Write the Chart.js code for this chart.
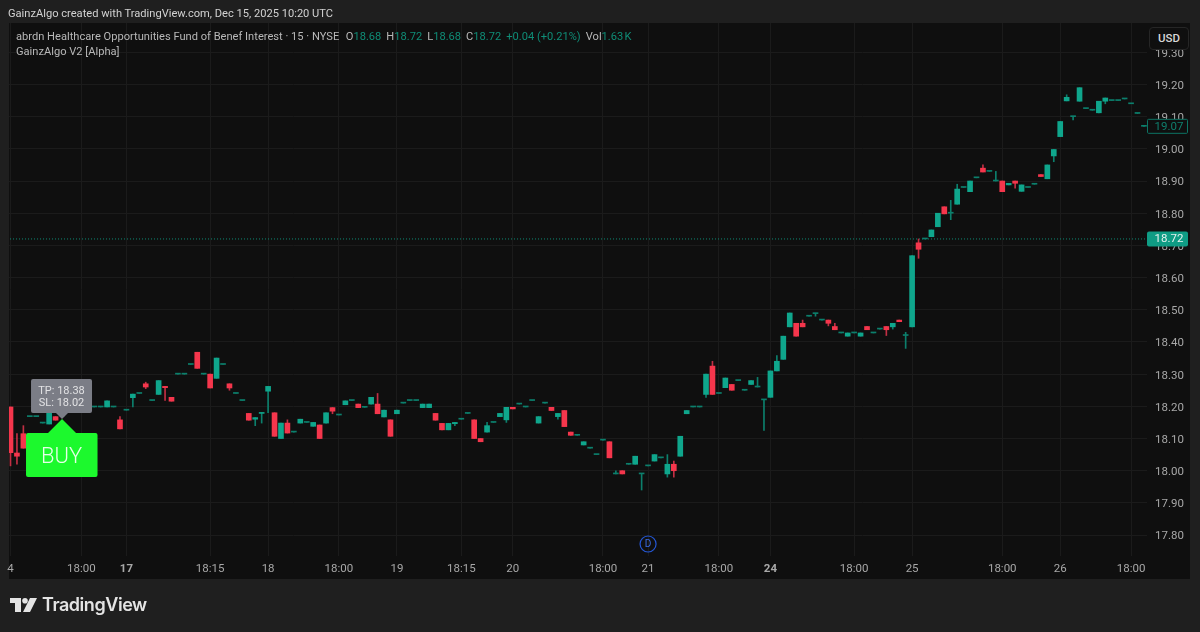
<!DOCTYPE html>
<html>
<head>
<meta charset="utf-8">
<title>GainzAlgo chart</title>
<script src="https://cdn.jsdelivr.net/npm/chart.js@4/dist/chart.umd.min.js"></script>
<style>
  html, body { margin: 0; padding: 0; background: #1f1f1f; }
  body { width: 1200px; height: 632px; position: relative; overflow: hidden; font-family: Roboto, Inter, sans-serif; }
  #pane { position: absolute; left: 9px; top: 23px; width: 1181px; height: 556px; background: #0f0f0f; }
  #price-chart { position: absolute; left: 0; top: 0; }
  .txt { position: absolute; white-space: nowrap; }
  #created { left: 8px; top: 7px; font-size: 11.12px; color: #d2d2d2; }
  #legend1 { left: 16px; top: 30px; font-size: 11.12px; color: #b8b8b8; }
  #legend2 { left: 16px; top: 45px; font-size: 11.12px; color: #b8b8b8; }
  #legend1 b { font-weight: 400; color: #0f8d77; }
  #legend1 span { margin-left: 5px; }
  #usd { left: 1149px; top: 27px; width: 38px; height: 21px; line-height: 21px; text-align: center; font-size: 11.5px; font-weight: 500; color: #d8d8d8; border: 1px solid #262626; border-radius: 4px; background: #0f0f0f; }
  #brand { left: 42px; top: 594px; font-family: Inter, sans-serif; font-size: 18px; font-weight: 600; letter-spacing: -0.45px; color: #e4e4e4; }
  #logo { position: absolute; left: 10px; top: 598px; }
</style>
</head>
<body>
<div id="pane"></div>
<canvas id="price-chart" width="1200" height="632"></canvas>
<div class="txt" id="created">GainzAlgo created with TradingView.com, Dec 15, 2025 10:20 UTC</div>
<div class="txt" id="legend1">abrdn Healthcare Opportunities Fund of Benef Interest · 15 · NYSE<span style="margin-left:6.5px">O<b>18.68</b></span><span>H<b>18.72</b></span><span>L<b>18.68</b></span><span>C<b>18.72</b></span><span><b>+0.04 (+0.21%)</b></span><span>Vol<b>1.63&#8202;K</b></span></div>
<div class="txt" id="legend2">GainzAlgo V2 [Alpha]</div>
<div class="txt" id="usd">USD</div>
<svg id="logo" width="27" height="14" viewBox="0 0 27 14">
  <path d="M0 0H11V14H5V5H0Z M20 0H27L20 14H13Z" fill="#e4e4e4"/>
  <circle cx="15" cy="2.8" r="2.8" fill="#e4e4e4"/>
</svg>
<div class="txt" id="brand">TradingView</div>

<script>
const opens = [18.198,18.055,18.115,18.168,18.168,18.148,18.145,18.168,18.17,18.19,18.2,18.2,18.198,18.198,18.198,18.198,18.198,18.158,18.188,18.227,
  18.24,18.27,18.218,18.237,18.262,18.228,18.3,18.3,18.33,18.368,18.3,18.3,18.287,18.33,18.27,18.24,18.218,18.178,18.16,18.178,
  18.247,18.18,18.1,18.148,18.12,18.148,18.15,18.138,18.142,18.148,18.196,18.173,18.205,18.218,18.207,18.197,18.207,18.207,18.167,18.158,
  18.177,18.21,18.218,18.218,18.196,18.196,18.178,18.147,18.127,18.146,18.16,18.178,18.158,18.1,18.12,18.15,18.168,18.158,18.197,18.207,
  18.198,18.218,18.148,18.21,18.197,18.168,18.187,18.12,18.11,18.08,18.07,18.05,18.095,18.09,17.99,18.0,18.02,18.02,17.99,18.015,
  18.03,18.04,17.99,18.02,18.045,18.177,18.198,18.198,18.237,18.325,18.24,18.258,18.268,18.28,18.25,18.268,18.26,18.22,18.228,18.31,
  18.346,18.447,18.458,18.458,18.48,18.488,18.468,18.468,18.448,18.428,18.418,18.428,18.418,18.448,18.428,18.44,18.448,18.447,18.468,18.42,
  18.447,18.708,18.72,18.727,18.758,18.82,18.8,18.828,18.88,18.867,18.91,18.94,18.93,18.9,18.9,18.888,18.9,18.868,18.88,18.89,
  18.92,18.907,18.978,19.038,19.149,19.1,19.148,19.125,19.12,19.112,19.148,19.15,19.15,19.155,19.14,19.11,19.07];
const closes = [18.056,18.045,18.07,18.168,18.168,18.148,18.185,18.157,18.17,18.19,18.2,18.2,18.198,18.198,18.198,18.217,18.198,18.13,18.188,18.238,
  18.24,18.26,18.218,18.28,18.258,18.216,18.3,18.3,18.33,18.318,18.3,18.257,18.35,18.33,18.257,18.24,18.218,18.157,18.165,18.18,
  18.262,18.107,18.148,18.117,18.12,18.16,18.15,18.15,18.1,18.18,18.185,18.173,18.217,18.218,18.196,18.197,18.228,18.177,18.188,18.107,
  18.188,18.21,18.218,18.218,18.207,18.207,18.157,18.127,18.147,18.15,18.16,18.178,18.1,18.09,18.14,18.15,18.178,18.197,18.192,18.207,
  18.198,18.218,18.168,18.21,18.187,18.178,18.137,18.11,18.11,18.09,18.07,18.05,18.095,18.04,17.99,17.99,18.02,18.045,17.99,18.015,
  18.05,18.04,18.02,18.0,18.107,18.187,18.198,18.198,18.3,18.237,18.24,18.288,18.25,18.28,18.25,18.28,18.26,18.22,18.31,18.34,
  18.418,18.49,18.418,18.447,18.48,18.488,18.468,18.458,18.438,18.428,18.428,18.428,18.428,18.438,18.428,18.44,18.438,18.458,18.463,18.42,
  18.668,18.688,18.72,18.748,18.8,18.798,18.8,18.875,18.88,18.9,18.91,18.928,18.93,18.9,18.867,18.893,18.893,18.888,18.88,18.89,
  18.914,18.95,18.998,19.085,19.16,19.1,19.19,19.125,19.12,19.148,19.158,19.15,19.15,19.155,19.14,19.11,19.07];
const highs = [18.198,18.115,18.14,18.168,18.168,18.148,18.185,18.168,18.17,18.19,18.2,18.2,18.198,18.198,18.198,18.217,18.198,18.168,18.188,18.238,
  18.24,18.275,18.218,18.28,18.262,18.228,18.3,18.3,18.33,18.368,18.3,18.3,18.35,18.33,18.27,18.24,18.218,18.178,18.165,18.18,
  18.262,18.18,18.148,18.158,18.12,18.16,18.15,18.15,18.142,18.18,18.196,18.173,18.217,18.218,18.207,18.197,18.228,18.24,18.188,18.158,
  18.188,18.21,18.218,18.218,18.207,18.207,18.178,18.147,18.147,18.15,18.16,18.178,18.158,18.1,18.15,18.15,18.178,18.197,18.197,18.207,
  18.198,18.218,18.168,18.21,18.197,18.178,18.187,18.12,18.11,18.09,18.07,18.05,18.095,18.09,18.0,18.0,18.02,18.045,17.99,18.015,
  18.05,18.04,18.05,18.03,18.107,18.187,18.198,18.198,18.3,18.34,18.24,18.288,18.268,18.28,18.25,18.28,18.29,18.22,18.31,18.358,
  18.418,18.49,18.458,18.468,18.48,18.488,18.468,18.468,18.458,18.428,18.428,18.428,18.428,18.448,18.428,18.44,18.448,18.458,18.468,18.43,
  18.668,18.72,18.72,18.748,18.8,18.82,18.84,18.89,18.88,18.9,18.91,18.95,18.93,18.93,18.9,18.893,18.9,18.888,18.88,18.89,
  18.92,18.95,18.998,19.085,19.168,19.1,19.19,19.125,19.12,19.148,19.158,19.15,19.15,19.155,19.14,19.11,19.07];
const lows = [18.015,18.02,18.07,18.168,18.168,18.148,18.145,18.157,18.17,18.19,18.2,18.2,18.198,18.198,18.198,18.198,18.198,18.13,18.188,18.198,
  18.24,18.255,18.218,18.237,18.218,18.216,18.3,18.3,18.33,18.318,18.3,18.257,18.287,18.33,18.25,18.24,18.218,18.157,18.14,18.148,
  18.18,18.107,18.1,18.117,18.12,18.148,18.15,18.138,18.1,18.148,18.177,18.173,18.205,18.218,18.196,18.197,18.207,18.177,18.167,18.107,
  18.177,18.21,18.218,18.218,18.196,18.196,18.157,18.127,18.127,18.14,18.16,18.178,18.1,18.09,18.12,18.15,18.168,18.15,18.192,18.207,
  18.198,18.218,18.148,18.21,18.187,18.16,18.137,18.11,18.11,18.08,18.07,18.05,18.095,18.04,17.99,17.99,18.02,18.02,17.94,18.015,
  18.03,18.04,17.98,17.98,18.045,18.177,18.198,18.198,18.228,18.237,18.24,18.258,18.25,18.28,18.25,18.268,18.26,18.125,18.228,18.31,
  18.346,18.447,18.418,18.447,18.48,18.48,18.468,18.45,18.438,18.428,18.418,18.428,18.418,18.438,18.428,18.44,18.42,18.44,18.463,18.38,
  18.447,18.66,18.72,18.727,18.758,18.798,18.78,18.828,18.88,18.867,18.91,18.928,18.93,18.9,18.867,18.888,18.878,18.868,18.88,18.89,
  18.914,18.907,18.96,19.038,19.149,19.09,19.148,19.125,19.12,19.112,19.14,19.15,19.15,19.155,19.14,19.11,19.07];

const priceTicks = [19.30,19.20,19.10,19.00,18.90,18.80,18.70,18.60,18.50,18.40,18.30,18.20,18.10,18.00,17.90,17.80];
const timeTickIndex = [0,11,18,31,40,51,60,70,78,92,99,110,118,131,140,154,163,174];
const timeTickLabels = ['4','18:00','17','18:15','18','18:00','19','18:15','20','18:00','21','18:00','24','18:00','25','18:00','26','18:00'];
const boldTimeLabels = ['17','24'];

const lastClose = 18.72;   // dotted line and green tag
const latestPrice = 19.07; // outlined tag
const signalIndex = 8;     // BUY flag
const dividendIndex = 99;  // D marker
const signalTexts = ['TP: 18.38', 'SL: 18.02'];

const UP = '#0fa68c';
const DOWN = '#f5364c';
const UP_THIN = '#0c7f6c';   // wicks and flat bars read dimmer than bodies
const DOWN_THIN = '#c22f44';
const AXIS_TEXT = '#a8a8a8';

const candleIndex = opens.map((_, i) => i);
const isUp = (i) => closes[i] >= opens[i];
const bodyColor = (ctx) => {
    const i = ctx.dataIndex;
    if (opens[i] === closes[i]) return UP_THIN;
    return isUp(i) ? UP : DOWN;
};
const wickColor = (ctx) => isUp(ctx.dataIndex) ? UP_THIN : DOWN_THIN;

// BUY flag, price tags and the dividend marker sit on top of the plot
const overlayPlugin = {
    id: 'overlays',
    afterDraw(chart) {
        const c = chart.ctx;
        const x = chart.scales.x;
        const y = chart.scales.y;
        c.save();
        c.textAlign = 'center';
        c.textBaseline = 'middle';

        // green tag
        const closeY = y.getPixelForValue(lastClose);
        c.fillStyle = '#0f9c84';
        c.beginPath();
        c.roundRect(1147, closeY - 7.5, 41, 15, 2);
        c.fill();
        c.fillStyle = '#e6f2ef';
        c.font = '11.5px Roboto';
        c.fillText(lastClose.toFixed(2), 1169, closeY + 0.5);

        // outlined tag
        const lastY = y.getPixelForValue(latestPrice);
        c.fillStyle = '#0f0f0f';
        c.strokeStyle = '#0d7464';
        c.lineWidth = 1;
        c.beginPath();
        c.roundRect(1147.5, lastY - 7, 40, 14, 1);
        c.fill();
        c.stroke();
        c.fillStyle = '#0f7f6d';
        c.fillText(latestPrice.toFixed(2), 1169, lastY + 0.5);

        // BUY flag
        const sx = x.getPixelForValue(signalIndex);
        c.fillStyle = '#1cf92d';
        c.beginPath();
        c.moveTo(sx, 419);
        c.lineTo(sx + 14, 433);
        c.lineTo(sx + 33, 433);
        c.arcTo(sx + 35.5, 433, sx + 35.5, 436, 2);
        c.lineTo(sx + 35.5, 475);
        c.arcTo(sx + 35.5, 477, sx + 33, 477, 2);
        c.lineTo(sx - 34, 477);
        c.arcTo(sx - 36, 477, sx - 36, 475, 2);
        c.lineTo(sx - 36, 435);
        c.arcTo(sx - 36, 433, sx - 34, 433, 2);
        c.lineTo(sx - 14, 433);
        c.closePath();
        c.fill();
        c.fillStyle = '#e6ffe8';
        c.font = '300 22px Roboto';
        c.fillText('BUY', sx - 0.5, 457);

        // TP / SL label
        c.fillStyle = '#7b7d86';
        c.beginPath();
        c.roundRect(sx - 31, 379, 61, 34, 2);
        c.fill();
        c.beginPath();
        c.moveTo(sx - 6, 413);
        c.lineTo(sx, 419);
        c.lineTo(sx + 6, 413);
        c.closePath();
        c.fill();
        c.fillStyle = '#e2e2e4';
        c.font = '11px Roboto';
        c.fillText(signalTexts[0], sx - 0.5, 391);
        c.fillText(signalTexts[1], sx - 0.5, 403);

        // dividend marker
        const dx = x.getPixelForValue(dividendIndex);
        c.strokeStyle = '#2457d6';
        c.lineWidth = 1.2;
        c.beginPath();
        c.arc(dx, 544, 8, 0, Math.PI * 2);
        c.stroke();
        c.fillStyle = '#3a6ae0';
        c.font = '10px Roboto';
        c.fillText('D', dx, 544.5);
        c.restore();
    }
};

new Chart(document.getElementById('price-chart').getContext('2d'), {
    type: 'bar',
    data: {
        datasets: [
            {
                label: 'Body',
                order: 1,
                data: candleIndex.map(i => ({ x: i, y: [opens[i], closes[i]] })),
                backgroundColor: bodyColor,
                barThickness: 5,
                minBarLength: 1,
                grouped: false
            },
            {
                label: 'Wick',
                order: 2,
                data: candleIndex.map(i => ({ x: i, y: [lows[i], highs[i]] })),
                backgroundColor: wickColor,
                barThickness: 1,
                grouped: false
            },
            {
                type: 'line',
                label: 'Last close',
                order: 3,
                data: [{ x: -1, y: lastClose }, { x: 178, y: lastClose }],
                borderColor: '#0f8d77',
                borderWidth: 1,
                borderDash: [1, 2],
                pointRadius: 0
            }
        ]
    },
    plugins: [overlayPlugin],
    options: {
        responsive: false,
        animation: false,
        devicePixelRatio: 1,
        layout: { padding: { left: 9, top: 23, right: 10, bottom: 53 } },
        plugins: { legend: { display: false }, tooltip: { enabled: false } },
        scales: {
            x: {
                type: 'linear',
                offset: false,
                min: -0.233,
                max: 176.475,
                afterBuildTicks(scale) {
                    scale.ticks = timeTickIndex.map(value => ({ value }));
                },
                afterFit(scale) { scale.height = 23; },
                grid: { color: '#1b1b1b', drawTicks: false, offset: false },
                border: { display: false },
                ticks: {
                    autoSkip: false,
                    maxRotation: 0,
                    padding: 6,
                    color: AXIS_TEXT,
                    callback: (value) => timeTickLabels[timeTickIndex.indexOf(value)],
                    font: (ctx) => {
                        const label = ctx.tick ? timeTickLabels[timeTickIndex.indexOf(ctx.tick.value)] : '';
                        return { family: 'Roboto', size: 11.5, weight: boldTimeLabels.includes(label) ? '700' : '400' };
                    }
                }
            },
            y: {
                position: 'right',
                min: 17.735,
                max: 19.391,
                afterBuildTicks(scale) {
                    scale.ticks = priceTicks.map(value => ({ value }));
                },
                afterFit(scale) { scale.width = 43; },
                grid: { color: '#1b1b1b', drawTicks: false },
                border: { display: false },
                ticks: {
                    padding: 8,
                    labelOffset: 1.5,
                    color: AXIS_TEXT,
                    font: { family: 'Roboto', size: 11.5 },
                    callback: (value) => value.toFixed(2)
                }
            }
        }
    }
});
</script>
</body>
</html>
